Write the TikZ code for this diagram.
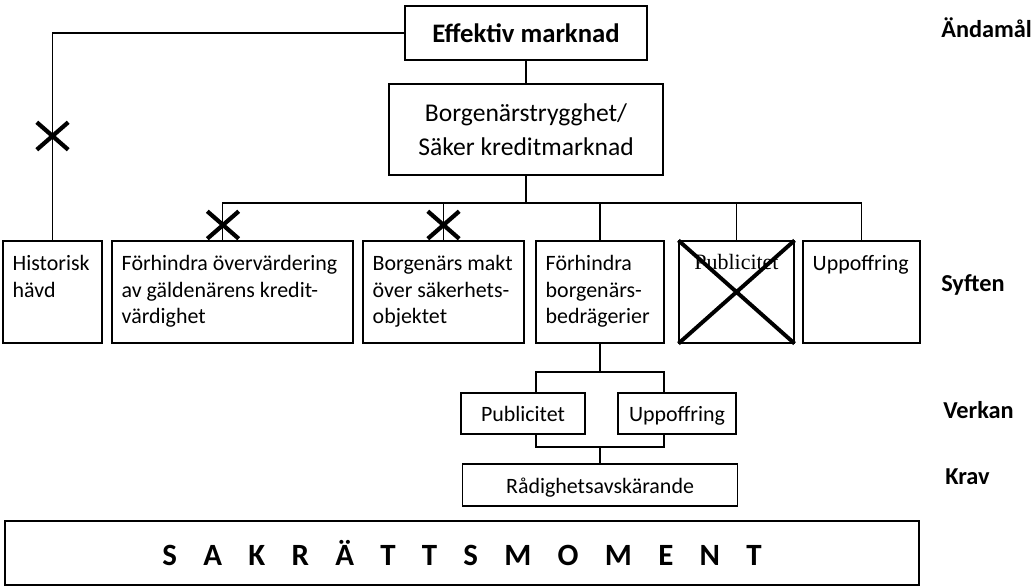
\documentclass[tikz,border=0pt]{standalone}
\usepackage{fontspec}
\setmainfont{Carlito}
\newfontfamily\timesfont{Liberation Serif}
\usetikzlibrary{shapes.misc}
\newcommand{\oben}{\rule{0pt}{0.75cm}}
\tikzset{
  kasten/.style={draw, line width=0.8pt, inner sep=0pt},
  txt/.style={font=\fontsize{15.6}{18.9}\selectfont, align=left, inner sep=0pt, anchor=north west, xshift=0.25cm},
  zeile/.style={kasten, font=\fontsize{15.6}{18.9}\selectfont, text height=13pt, text depth=1.5pt},
  rubrik/.style={font=\fontsize{17.3}{20}\selectfont\bfseries, anchor=base west, inner sep=0pt},
  kryss/.style={draw, cross out, line width=3pt, minimum width=0.68cm, minimum height=0.58cm, inner sep=0pt},
  linie/.style={line width=0.8pt}
}

\begin{document}
\begin{tikzpicture}
  \useasboundingbox (0,0) rectangle (25.8,-14.675);
  %Kaesten oben
  \node[kasten, minimum width=6.05cm, minimum height=1.35cm, font=\fontsize{19}{22}\selectfont\bfseries] (eff) at (13.15,-0.825) {Effektiv marknad};
  \node[kasten, minimum width=6.85cm, minimum height=2.275cm, align=center, font=\fontsize{18.2}{24.4}\selectfont] (borg) at (13.15,-3.2375) {Borgenärstrygghet/\\Säker kreditmarknad};

  %Syften
  \node[kasten, minimum width=2.475cm, minimum height=2.55cm, label={[txt]north west:\oben Historisk\\hävd}] (hist) at (1.3125,-7.3) {};
  \node[kasten, minimum width=6.025cm, minimum height=2.55cm, label={[txt]north west:\oben Förhindra övervärdering\\av gäldenärens kredit-\\värdighet}] (overv) at (5.8125,-7.3) {};
  \node[kasten, minimum width=4.025cm, minimum height=2.55cm, label={[txt]north west:\oben Borgenärs makt\\över säkerhets-\\objektet}] (makt) at (11.0875,-7.3) {};
  \node[kasten, minimum width=3.2cm, minimum height=2.55cm, label={[txt]north west:\oben Förhindra\\borgenärs-\\bedrägerier}] (bedr) at (15.0,-7.3) {};
  \node[kasten, minimum width=2.875cm, minimum height=2.55cm, label={[font=\fontsize{15.6}{18.9}\timesfont, inner sep=0pt, anchor=north]north:\rule{0pt}{0.725cm}Publicitet}] (publ) at (18.4125,-7.3) {};
  \node[kasten, minimum width=2.925cm, minimum height=2.55cm, label={[txt]north west:\oben Uppoffring}] (uppo) at (21.5375,-7.3) {};

  %Verkan und Krav
  \node[zeile, minimum width=3.1cm, minimum height=1.025cm] (publ2) at (13.075,-10.3375) {Publicitet};
  \node[zeile, minimum width=2.95cm, minimum height=1.025cm] (uppo2) at (16.925,-10.3375) {Uppoffring};
  \node[zeile, minimum width=6.875cm, minimum height=1.05cm] (rad) at (15.0,-12.125) {Rådighetsavskärande};
  \node[kasten, line width=1.2pt, minimum width=22.85cm, minimum height=1.6cm, font=\fontsize{22}{26}\selectfont\bfseries] (sak) at (11.55,-13.825) {\spaceskip=0.85em\relax S A K R Ä T T S M O M E N T};

  %Rubriken rechts
  \node[rubrik] (andamal) at (23.525,-0.95) {Ändamål};
  \node[rubrik] (syften) at (23.525,-7.3) {Syften};
  \node[rubrik] (verkan) at (23.575,-10.475) {Verkan};
  \node[rubrik] (krav) at (23.625,-12.1) {Krav};

  %Linien
  \coordinate (bus) at (0,-5.075);
  \coordinate (gabel) at (0,-9.3);
  \coordinate (gabel2) at (0,-11.175);
  \draw[linie] (eff.south) -- (borg.north);
  \draw[linie] (eff.west) -| (hist.north);
  \draw[linie] (borg.south) -- (borg.south |- bus);
  \draw[linie] ([xshift=-0.24cm]overv.north) |- (uppo.north |- bus) -- (uppo.north);
  \draw[linie] (makt.north) -- (makt.north |- bus);
  \draw[linie] (bedr.north) -- (bedr.north |- bus);
  \draw[linie] (publ.north) -- (publ.north |- bus);
  \draw[linie] (bedr.south) -- (bedr.south |- gabel);
  \draw[linie] ([xshift=0.325cm]publ2.north) |- ([xshift=-0.325cm]uppo2.north |- gabel) -- ([xshift=-0.325cm]uppo2.north);
  \draw[linie] ([xshift=0.325cm]publ2.south) |- ([xshift=-0.325cm]uppo2.south |- gabel2) -- ([xshift=-0.325cm]uppo2.south);
  \draw[linie] (rad.north) -- (rad.north |- gabel2);

  %Kreuze
  \node[kryss] (k1) at (1.3125,-3.4) {};
  \node[kryss] (k2) at (5.575,-5.625) {};
  \node[kryss] (k3) at (11.0875,-5.625) {};
  \draw[line width=2.8pt] (publ.north west) -- (publ.south east) (publ.south west) -- (publ.north east);
\end{tikzpicture}
\end{document}
